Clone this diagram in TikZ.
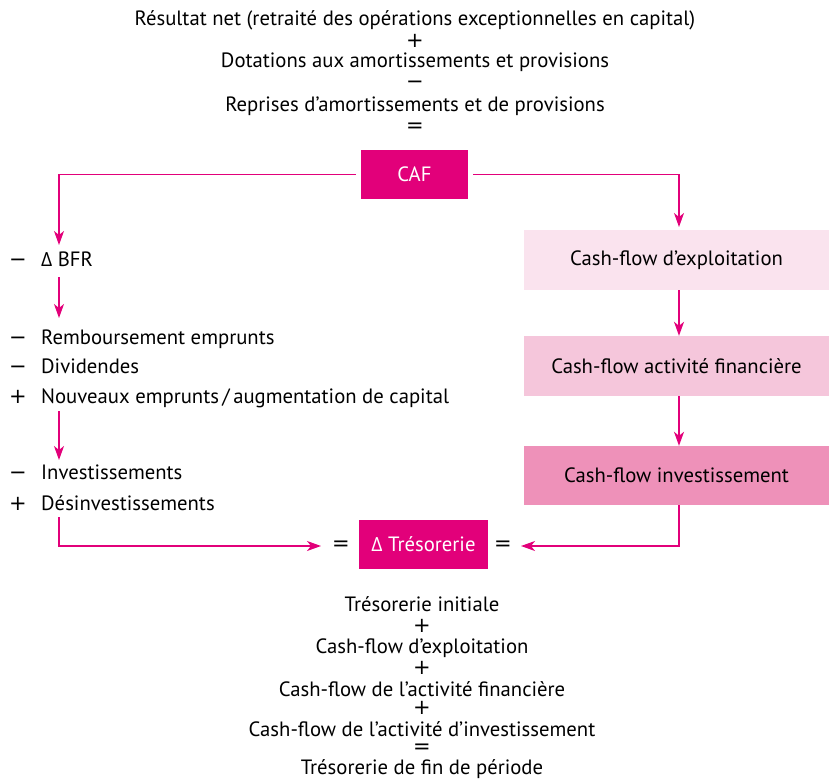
\documentclass[tikz,border=0pt]{standalone}
\usepackage{fontspec}
\setmainfont{PT Sans}
\newfontfamily\gk{Open Sans}
\newfontfamily\sym{DejaVu Sans}
\usetikzlibrary{arrows.meta}
\definecolor{mag}{HTML}{E2007A}
\definecolor{pk1}{HTML}{FAE3EE}
\definecolor{pk2}{HTML}{F5C6DB}
\definecolor{pk3}{HTML}{EE91B9}
\newcommand{\mn}{{\sym\fontsize{21}{22}\selectfont −}}
\newcommand{\pl}{{\sym\fontsize{21}{22}\selectfont +}}
\newcommand{\eq}{{\sym\fontsize{21}{22}\selectfont =}}
\newcommand{\dl}{{\gk\fontsize{19.5}{20}\selectfont Δ}}
\begin{document}
\begin{tikzpicture}[x=1pt,y=-1pt,
  every node/.style={font=\fontsize{20.7}{22}\selectfont, inner sep=0pt},
  txt/.style={anchor=center},
  ltxt/.style={anchor=base west},
  cafbox/.style={fill=mag, text=white, minimum width=107pt, minimum height=49pt},
  cfbox/.style={minimum width=305pt, minimum height=60pt},
  conn/.style={draw=mag, line width=1.4pt, -{Stealth[length=14pt,width=10pt,inset=4pt]}}]
\useasboundingbox (0,0) rectangle (830,779);
% top equation
\node[txt] (t1) at (415,20) {Résultat net (retraité des opérations exceptionnelles en capital)};
\node[txt] (t2) at (415,41) {\pl};
\node[txt] (t3) at (415,62) {Dotations aux amortissements et provisions};
\node[txt] (t4) at (415,85) {\mn};
\node[txt] (t5) at (415,106) {Reprises d’amortissements et de provisions};
\node[txt] (t6) at (415,128) {\eq};
% CAF
\node[cafbox] (caf) at (414.5,174.5) {CAF};
% right boxes
\node[cfbox, fill=pk1] (cf1) at (676.5,260) {Cash-flow d’exploitation};
\node[cfbox, fill=pk2] (cf2) at (676.5,366) {Cash-flow activité financière};
\node[cfbox, fill=pk3, minimum height=59pt] (cf3) at (676.5,475.5) {Cash-flow investissement};
% left column
\node[ltxt] (s1) at (9,266) {\mn};
\node[ltxt] (l1) at (41,266) {\dl\ BFR};
\node[ltxt] (s2) at (9,344) {\mn};
\node[ltxt] (l2) at (41,344) {Remboursement emprunts};
\node[ltxt] (s3) at (9,373) {\mn};
\node[ltxt] (l3) at (41,373) {Dividendes};
\node[ltxt] (s4) at (9,403) {\pl};
\node[ltxt] (l4) at (41,403) {Nouveaux emprunts\,/\,augmentation de capital};
\node[ltxt] (s5) at (9,479) {\mn};
\node[ltxt] (l5) at (41,479) {Investissements};
\node[ltxt] (s6) at (9,510) {\pl};
\node[ltxt] (l6) at (41,510) {Désinvestissements};
% tresorerie
\node[cafbox, minimum width=129pt] (tres) at (423.5,544.5) {\dl\ Trésorerie};
\node[txt] (eqL) at (341,546) {\eq};
\node[txt] (eqR) at (503,546) {\eq};
% bottom equation
\node[txt] (b1) at (422,604) {Trésorerie initiale};
\node[txt] (b2) at (422,626) {\pl};
\node[txt] (b3) at (422,648) {Cash-flow d’exploitation};
\node[txt] (b4) at (422,668) {\pl};
\node[txt] (b5) at (422,689) {Cash-flow de l’activité financière};
\node[txt] (b6) at (422,708) {\pl};
\node[txt] (b7) at (422,729) {Cash-flow de l’activité d’investissement};
\node[txt] (b8) at (422,749) {\eq};
\node[txt] (b9) at (422,769) {Trésorerie de fin de période};
% coordinates
\coordinate (bfrtip) at (59,245);
\coordinate (cf1tip) at (679,227);
\coordinate (a2s) at (59,277);
\coordinate (a2e) at (59,318);
\coordinate (a3s) at (59,411);
\coordinate (a3e) at (59,460);
\coordinate (a4s) at (59,517);
% connectors
\draw[conn, shorten <=5pt] (caf.west) -| (bfrtip);
\draw[conn, shorten <=5pt] (caf.east) -| (cf1tip);
\draw[conn] ([xshift=2.5pt]cf1.south) -- ([xshift=2.5pt]cf2.north);
\draw[conn] ([xshift=2.5pt]cf2.south) -- ([xshift=2.5pt]cf3.north);
\draw[conn] (a2s) -- (a2e);
\draw[conn] (a3s) -- (a3e);
\draw[conn, shorten >=11pt] (a4s) |- (eqL.west);
\draw[conn, shorten >=9pt] ([xshift=2.5pt]cf3.south) |- (eqR.east);
\end{tikzpicture}
\end{document}
